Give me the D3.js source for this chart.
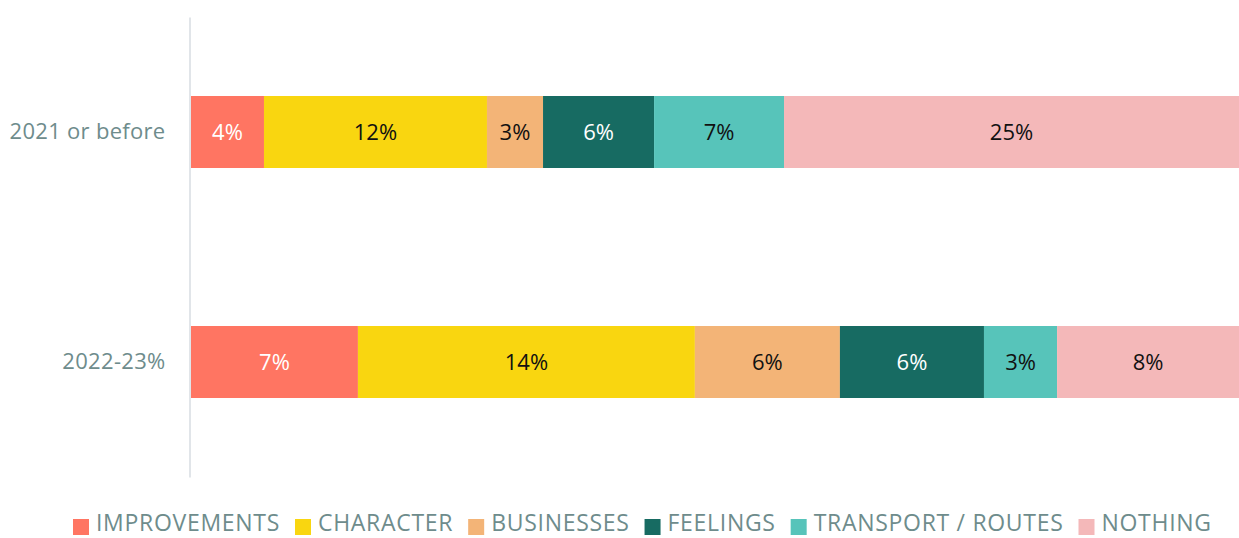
<!DOCTYPE html>
<html>
<head>
<meta charset="utf-8">
<script src="https://cdn.jsdelivr.net/npm/d3@7"></script>
<style>
  body { margin: 0; background: #fff; overflow: hidden; }
  text { font-family: "Open Sans", "Noto Sans", sans-serif; }
</style>
</head>
<body>
<div id="chart"></div>
<script>
var categories = ["2021 or before", "2022-23%"];
var seriesNames = ["IMPROVEMENTS", "CHARACTER", "BUSINESSES", "FEELINGS", "TRANSPORT / ROUTES", "NOTHING"];
var seriesColors = ["#ff7562", "#f9d610", "#f3b477", "#176b62", "#57c4ba", "#f4b8b9"];
var labelColors = ["#fff", "#111", "#111", "#fff", "#111", "#111"];
// percentages per category, same order as seriesNames
var values2021 = [3.97, 12.13, 3.05, 6.04, 7.07, 24.75];
var values2022 = [7.01, 14.15, 6.09, 6.05, 3.07, 7.64];

var size = {
  width: 1239,
  height: 538,
  left: 191,
  right: 0,
  top: 17,
  bottom: 477
};

var rows = [values2021, values2022];

var svg = d3.select("#chart")
  .append("svg")
  .attr("width", size.width)
  .attr("height", size.height);

var yScale = d3.scaleBand()
  .domain(categories)
  .range([size.top, size.bottom])
  .paddingInner(0.687)
  .paddingOuter(0.3435);

rows.forEach(function (vals, r) {
  var total = d3.sum(vals);
  var xScale = d3.scaleLinear()
    .domain([0, total])
    .range([size.left, size.width - size.right]);
  var acc = 0;
  var segs = vals.map(function (v, i) {
    var s = {start: acc, end: acc + v, value: v, i: i};
    acc += v;
    return s;
  });

  var g = svg.append("g").attr("class", "row");

  g.selectAll("rect")
    .data(segs)
    .enter()
    .append("rect")
    .attr("x", function (d) { return xScale(d.start); })
    .attr("y", yScale(categories[r]))
    .attr("width", function (d) { return xScale(d.end) - xScale(d.start); })
    .attr("height", yScale.bandwidth())
    .attr("fill", function (d) { return seriesColors[d.i]; });

  g.selectAll("text")
    .data(segs)
    .enter()
    .append("text")
    .attr("x", function (d) { return (xScale(d.start) + xScale(d.end)) / 2; })
    .attr("y", yScale(categories[r]) + yScale.bandwidth() / 2)
    .attr("dy", "0.35em")
    .attr("text-anchor", "middle")
    .attr("font-size", 22)
    .attr("fill", function (d) { return labelColors[d.i]; })
    .text(function (d) { return Math.round(d.value) + "%"; });
});

// y axis: labels only plus a light line
var yAxis = d3.axisLeft(yScale).tickSize(0).tickPadding(24);
var axisG = svg.append("g")
  .attr("transform", "translate(" + (size.left - 1.5) + ",0)")
  .call(yAxis);
axisG.select(".domain")
  .attr("stroke", "#e1e5e9")
  .attr("stroke-width", 2);
axisG.selectAll("text")
  .attr("font-size", 22)
  .attr("letter-spacing", 0.3)
  .attr("fill", "#6e8c8c")
  .style("font-family", "'Open Sans', sans-serif");

// legend
var legend = svg.append("g").attr("class", "legend");
var lx = 73;
var ly = 531;
seriesNames.forEach(function (name, i) {
  var item = legend.append("g");
  item.append("rect")
    .attr("x", lx)
    .attr("y", ly - 12)
    .attr("width", 16)
    .attr("height", 16)
    .attr("fill", seriesColors[i]);
  var t = item.append("text")
    .attr("x", lx + 23)
    .attr("y", ly)
    .attr("font-size", 23)
    .attr("letter-spacing", 0.7)
    .attr("fill", "#6e8c8c")
    .text(name);
  lx += 23 + t.node().getComputedTextLength() + 15;
});
</script>
</body>
</html>
